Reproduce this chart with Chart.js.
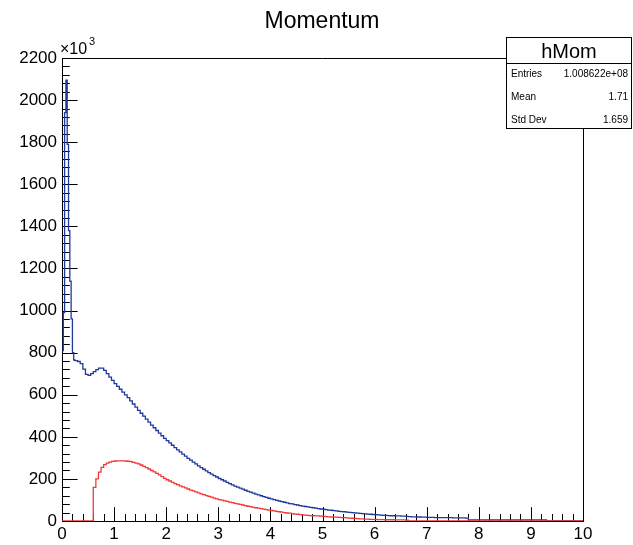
<!DOCTYPE html>
<html>
<head>
<meta charset="utf-8">
<script src="https://cdn.jsdelivr.net/npm/chart.js@4.4.1/dist/chart.umd.min.js"></script>
<style>
  html, body { margin: 0; padding: 0; background: #fff; }
</style>
</head>
<body>
<canvas id="momChart" width="633" height="545"></canvas>
<script>
// hMom - momentum histogram (counts in units of 10^3)

// fine bins (0.025) over the low-momentum spike, blue only
const peakWidth = 0.025;
const peakBlue = [810, 990, 1940, 2095, 1790, 1380, 1140, 960, 800, 765];

// regular bins (0.05); blue starts at 0.25, red starts at 0
const binWidth = 0.05;
const blueStart = 0.25;
const blueCounts = [
  762, 758, 748, 722, 697, 692, 700, 710, 719, 726,
  726, 716, 700, 684, 668, 653, 640, 626, 612, 599,
  586, 571, 556, 541, 526, 512, 498, 484, 470, 456,
  443, 430, 418, 405, 393,
  382, 371, 360, 349, 338, 328, 318, 308, 298, 289,
  280, 271, 262, 254, 246, 238, 230, 223, 216, 209,
  202, 196, 190, 184, 178, 172, 166, 161, 156, 151,
  146, 141, 137, 132, 128, 124, 120, 116, 112, 108,
  105, 102, 98, 95, 92, 89, 86, 83, 81, 78,
  76, 73, 71, 69, 67, 65, 63, 61, 59, 57,
  56, 54, 52, 51, 49, 48, 46, 45, 44, 42,
  41, 40, 39, 37, 36, 35, 34, 33, 32, 31,
  30, 29, 28, 27, 27, 26, 25, 25, 24, 24,
  23, 23, 22, 21, 20, 20, 19, 19, 18, 18,
  17, 17, 17, 16, 16, 16, 16, 16, 16, 16,
  15, 15, 15, 15, 15, 14, 5, 5, 5, 5,
  5, 5, 5, 5, 5, 5, 5, 5, 5, 5,
  5, 5, 5, 5, 5, 5, 5, 5, 5, 5,
  5, 5, 5, 5, 5, 5, 0, 0, 0, 0,
  0, 0, 0, 0, 0, 0, 0, 0, 0, 0
];
const redCounts = [
  0, 0, 0, 0, 0, 0, 0, 0, 0, 0,
  0, 0, 160, 200, 232, 255, 268, 275, 280, 283,
  285, 286, 286, 286, 285, 284, 282, 279, 275, 271,
  266, 260, 254, 247, 240, 233, 226, 219, 211, 203,
  196, 190, 184, 178, 173, 167, 162, 157, 152, 147,
  143, 138, 134, 129, 125, 121, 117, 113, 109, 105,
  102, 99, 96, 93, 90, 87, 84, 81, 79, 76,
  73, 70, 68, 65, 63, 61, 59, 56, 54, 52,
  50, 48, 46, 44, 42, 40, 38, 37, 35, 33,
  32, 30, 29, 28, 27, 26, 25, 24, 24, 23,
  22, 21, 20, 19, 18, 18, 17, 16, 16, 15,
  14, 13, 12, 11, 10, 10, 9, 9, 8, 8,
  8, 7, 7, 7, 6, 6, 6, 6, 5, 5,
  5, 5, 4, 0, 0, 0, 0, 0, 0, 0,
  0, 0, 0, 0, 0, 0, 0, 0, 0, 0,
  0, 0, 0, 0, 0, 0, 0, 0, 0, 0,
  0, 0, 0, 0, 0, 0, 0, 0, 0, 0,
  0, 0, 0, 0, 0, 0, 0, 0, 0, 0,
  0, 0, 0, 0, 0, 0, 0, 0, 0, 0,
  0, 0, 0, 0, 0, 0, 0, 0, 0, 0
];

const xTicks = [0, 1, 2, 3, 4, 5, 6, 7, 8, 9, 10];
const yTicks = [0, 200, 400, 600, 800, 1000, 1200, 1400, 1600, 1800, 2000, 2200];
const statsRows = [['Entries', '1.008622e+08'], ['Mean', '1.71'], ['Std Dev', '1.659']];

const FONT = "'Liberation Sans', Arial, Helvetica, sans-serif";

// histogram points at each bin's low edge, plus a closing point at the upper edge
function histPoints(start, width, counts) {
  const pts = counts.map((c, i) => ({ x: +(start + i * width).toFixed(3), y: c }));
  pts.push({ x: +(start + counts.length * width).toFixed(3), y: counts[counts.length - 1] });
  return pts;
}
const bluePoints = histPoints(0, peakWidth, peakBlue).slice(0, -1)
  .concat(histPoints(blueStart, binWidth, blueCounts));
const redPoints = histPoints(0, binWidth, redCounts);

// ROOT-style frame, inner ticks, title and stats box
const rootFrame = {
  id: 'rootFrame',
  beforeDatasetsDraw(chart) {
    const { ctx, chartArea: a, scales: { x, y } } = chart;
    ctx.save();
    ctx.strokeStyle = '#000';
    ctx.lineWidth = 1;
    ctx.beginPath();
    ctx.moveTo(a.left, a.top + 0.5);
    ctx.lineTo(a.right + 0.5, a.top + 0.5);
    ctx.lineTo(a.right + 0.5, a.bottom);
    // y ticks, 5 subdivisions
    for (let v = 0; v <= 2200; v += 40) {
      const py = Math.round(y.getPixelForValue(v)) + 0.5;
      const len = v % 200 === 0 ? 15.6 : 7.8;
      ctx.moveTo(a.left, py);
      ctx.lineTo(a.left + len, py);
    }
    // x ticks
    for (let i = 0; i <= 50; i++) {
      const px = Math.round(x.getPixelForValue(i * 0.2)) + 0.5;
      const len = i % 5 === 0 ? 13.9 : 7;
      ctx.moveTo(px, a.bottom);
      ctx.lineTo(px, a.bottom - len);
    }
    ctx.stroke();
    ctx.restore();
  },
  afterDraw(chart) {
    const { ctx } = chart;
    ctx.save();
    ctx.fillStyle = '#000';
    ctx.textBaseline = 'alphabetic';

    ctx.font = '23px ' + FONT;
    ctx.textAlign = 'center';
    ctx.fillText('Momentum', 322, 28);

    ctx.textAlign = 'left';
    ctx.font = '16px ' + FONT;
    ctx.fillText('\u00d710', 60, 54);
    ctx.font = '11px ' + FONT;
    ctx.fillText('3', 89, 45);

    // stats box
    ctx.fillStyle = '#fff';
    ctx.fillRect(506, 37, 126, 92);
    ctx.strokeStyle = '#000';
    ctx.lineWidth = 1;
    ctx.strokeRect(506.5, 37.5, 125, 91);
    ctx.beginPath();
    ctx.moveTo(506.5, 63.5);
    ctx.lineTo(631.5, 63.5);
    ctx.stroke();
    ctx.fillStyle = '#000';
    ctx.font = '20px ' + FONT;
    ctx.textAlign = 'center';
    ctx.fillText('hMom', 569, 58);
    ctx.font = '10px ' + FONT;
    statsRows.forEach((row, i) => {
      const by = 77 + i * 23;
      ctx.textAlign = 'left';
      ctx.fillText(row[0], 511, by);
      ctx.textAlign = 'right';
      ctx.fillText(row[1], 628, by);
    });
    ctx.restore();
  }
};

const ctx = document.getElementById('momChart').getContext('2d');
new Chart(ctx, {
  type: 'line',
  data: {
    datasets: [
      {
        label: 'red',
        data: redPoints,
        borderColor: '#f03a3a',
        borderWidth: 1.3,
        stepped: true,
        pointRadius: 0,
        fill: false
      },
      {
        label: 'hMom',
        data: bluePoints,
        borderColor: '#1f3a9c',
        borderWidth: 1.3,
        stepped: true,
        pointRadius: 0,
        fill: false
      }
    ]
  },
  options: {
    responsive: false,
    animation: false,
    layout: { padding: { top: 58, right: 50, left: 0, bottom: 0 } },
    plugins: {
      legend: { display: false },
      tooltip: { enabled: false },
      title: { display: false }
    },
    scales: {
      x: {
        type: 'linear',
        min: 0,
        max: 10,
        afterBuildTicks(s) { s.ticks = xTicks.map(v => ({ value: v })); },
        afterFit(s) { s.height = 24; },
        grid: { display: false, drawTicks: false },
        border: { display: true, color: '#000', width: 1 },
        ticks: {
          color: '#000',
          padding: 3,
          maxRotation: 0,
          autoSkip: false,
          callback: v => String(v),
          font: { family: FONT, size: 17 }
        }
      },
      y: {
        type: 'linear',
        min: 0,
        max: 2200,
        afterBuildTicks(s) { s.ticks = yTicks.map(v => ({ value: v })); },
        afterFit(s) { s.width = 62; },
        grid: { display: false, drawTicks: false },
        border: { display: true, color: '#000', width: 1 },
        ticks: {
          color: '#000',
          padding: 5,
          autoSkip: false,
          callback: v => String(v),
          font: { family: FONT, size: 17 }
        }
      }
    }
  },
  plugins: [rootFrame]
});
</script>
</body>
</html>
